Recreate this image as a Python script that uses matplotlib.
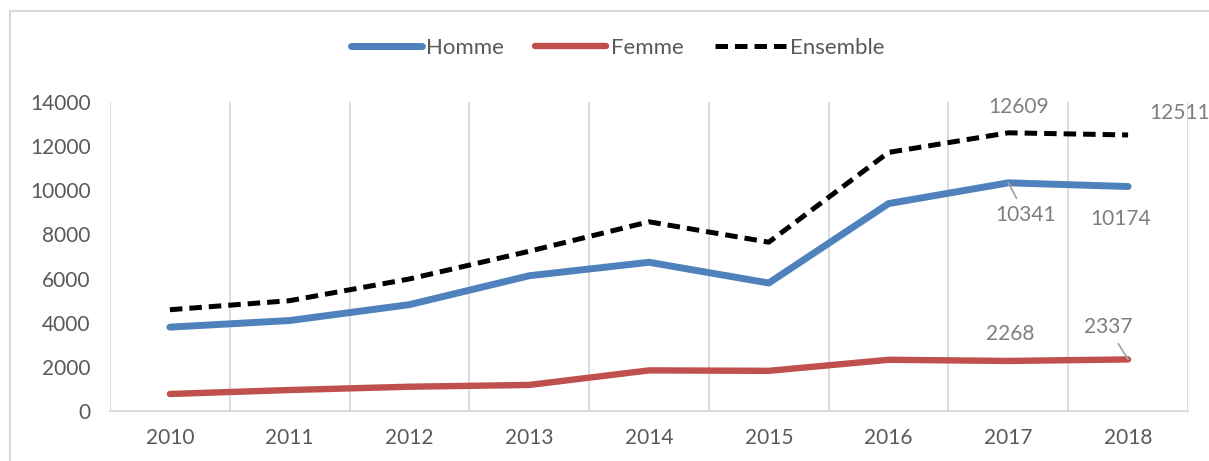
import matplotlib
matplotlib.use("Agg")
import matplotlib.pyplot as plt
from matplotlib.patches import Rectangle
import numpy as np

plt.rcParams['font.family'] = ['Lato', 'DejaVu Sans']

annees = ['2010', '2011', '2012', '2013', '2014', '2015', '2016', '2017', '2018']
homme = [3800, 4100, 4820, 6130, 6740, 5800, 9400, 10341, 10174]
femme = [770, 950, 1100, 1180, 1840, 1820, 2320, 2268, 2337]
ensemble = [4590, 5000, 5985, 7240, 8576, 7650, 11720, 12609, 12511]

bleu = '#4F81BD'
rouge = '#C0504D'
gris_txt = '#595959'
gris_lbl = '#7F7F7F'
gris_grille = '#D9D9D9'

fig = plt.figure(figsize=(12.09, 4.61), dpi=100)
ax = fig.add_axes([0.091, 0.1085, 0.8916, 0.670])

# cadre du graphique
fig.patches.append(Rectangle((10 / 1209, -0.1), 1.2, 1 - 11 / 461 + 0.1,
                             transform=fig.transFigure, fill=False,
                             edgecolor=gris_grille, lw=1.5))

x = np.arange(len(annees))
ax.plot(x, homme, color=bleu, lw=5, solid_capstyle='round',
        solid_joinstyle='round', label='Homme', zorder=3)
ax.plot(x, femme, color=rouge, lw=4.6, solid_capstyle='round',
        solid_joinstyle='round', label='Femme', zorder=3)
ax.plot(x, ensemble, color='black', lw=3.6, linestyle=(0, (2.5, 1.4)),
        label='Ensemble', zorder=4)

ax.set_xlim(-0.5, 8.5)
ax.set_ylim(0, 14000)
ax.set_yticks(np.arange(0, 14001, 2000))
ax.set_xticks(x)
ax.set_xticklabels(annees)
ax.set_xticks(np.arange(-0.5, 9, 1), minor=True)
ax.grid(True, which='minor', axis='x', color=gris_grille, lw=1.3)
ax.tick_params(which='both', length=0)
ax.tick_params(axis='y', labelsize=15, labelcolor=gris_txt, pad=14)
ax.tick_params(axis='x', labelsize=15, labelcolor=gris_txt, pad=12)
for s in ['top', 'right', 'left']:
    ax.spines[s].set_visible(False)
ax.spines['bottom'].set_color(gris_grille)
ax.spines['bottom'].set_linewidth(1.3)

# étiquettes de données
kw = dict(fontsize=15, color=gris_lbl, ha='center', va='center',
          textcoords='offset pixels')
fleche = dict(arrowstyle='-', color='#A6A6A6', lw=1.3, shrinkA=3, shrinkB=0)
ax.annotate(str(ensemble[7]), (7, ensemble[7]), xytext=(10, 26), **kw)
ax.annotate(str(ensemble[8]), (8, ensemble[8]), xytext=(52, 22), **kw)
ax.annotate(str(homme[7]), (7, homme[7]), xytext=(17, -32), arrowprops=fleche, **kw)
ax.annotate(str(homme[8]), (8, homme[8]), xytext=(-7, -32), **kw)
ax.annotate(str(femme[7]), (7, femme[7]), xytext=(2, 27), **kw)
ax.annotate(str(femme[8]), (8, femme[8]), xytext=(-20, 32), arrowprops=fleche, **kw)

leg = ax.legend(loc='center', bbox_to_anchor=(0.511, 1 - 48 / 461),
                bbox_transform=fig.transFigure, ncol=3, frameon=False,
                fontsize=16, handlelength=3.2, handletextpad=0.2,
                columnspacing=1.4)
for t in leg.get_texts():
    t.set_color(gris_txt)

fig.savefig('out.png', dpi=100)
